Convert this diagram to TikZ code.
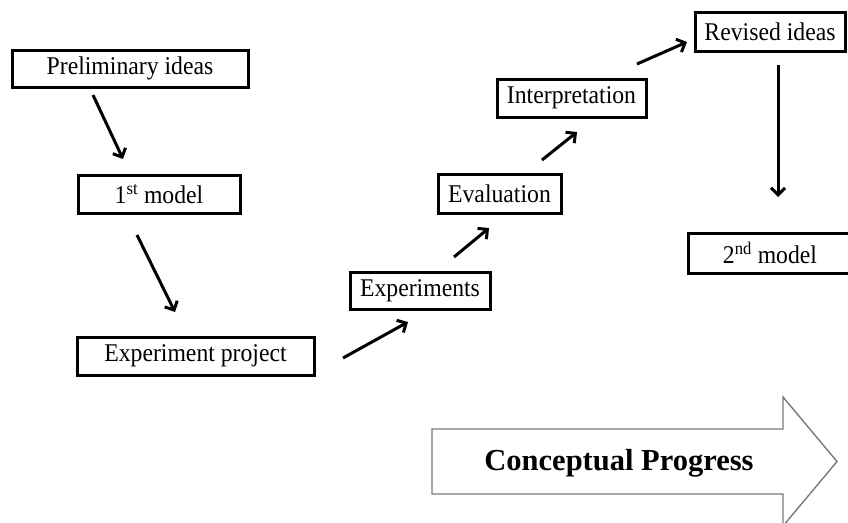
\documentclass[tikz,border=0pt]{standalone}
\usepackage{fontspec}
\setmainfont{Liberation Serif}
\usetikzlibrary{arrows.meta}
\newcommand\narrowtext[1]{\scalebox{0.93}[1]{#1}}
\begin{document}
\begin{tikzpicture}[x=1pt,y=-1pt,
  box/.style={draw, line width=3pt, inner sep=0pt, font=\fontsize{25.5}{30}\selectfont},
  conn/.style={line width=3pt, -{Straight Barb[length=7pt,width=14pt,line width=3pt]}},
  bigarrow/.style={draw=black!52, line width=1.4pt, fill=white, line join=miter}
]
\useasboundingbox (0,0) rectangle (848,522);
\fill[white] (0,0) rectangle (848,522);

% boxes
\node[box, minimum width=236, minimum height=37] (prelim) at (130,68.5) {\narrowtext{Preliminary ideas}};
\node[box, minimum width=162, minimum height=38] (m1) at (159,194) {\narrowtext{1\textsuperscript{st} model}};
\node[box, minimum width=237, minimum height=38] (proj) at (195.5,356) {\narrowtext{Experiment project}};
\node[box, minimum width=140, minimum height=37] (exps) at (420,290.5) {\narrowtext{Experiments}};
\node[box, minimum width=123, minimum height=39] (eval) at (499.5,193.5) {\narrowtext{Evaluation}};
\node[box, minimum width=149, minimum height=38] (interp) at (571.5,98) {\narrowtext{Interpretation}};
\node[box, minimum width=150, minimum height=39] (rev) at (770,31.5) {\narrowtext{Revised ideas}};
\node[box, minimum width=164, minimum height=40] (m2) at (770,253) {\narrowtext{2\textsuperscript{nd} model}};

% arrow end points
\coordinate (a1s) at (93,95);   \coordinate (a1e) at (123,159);
\coordinate (a2s) at (137,235); \coordinate (a2e) at (175,312);
\coordinate (a3s) at (343,358); \coordinate (a3e) at (408,322);
\coordinate (a4s) at (454,257); \coordinate (a4e) at (489,228);
\coordinate (a5s) at (542,160); \coordinate (a5e) at (577,132);
\coordinate (a6s) at (637,64);  \coordinate (a6e) at (687,42);
\coordinate (a7s) at (778,65);  \coordinate (a7e) at (778,197);

\draw[conn] (a1s) -- (a1e);
\draw[conn] (a2s) -- (a2e);
\draw[conn] (a3s) -- (a3e);
\draw[conn] (a4s) -- (a4e);
\draw[conn] (a5s) -- (a5e);
\draw[conn] (a6s) -- (a6e);
\draw[conn] (a7s) -- (a7e);

% big arrow
\draw[bigarrow] (432,429) -- (783,429) -- (783,397) -- (837,461.5) -- (783,526) -- (783,494) -- (432,494) -- cycle;
\node[anchor=base, inner sep=0pt, font=\fontsize{30.5}{36}\selectfont\bfseries] (cp) at (619,470) {Conceptual Progress};
\end{tikzpicture}
\end{document}
